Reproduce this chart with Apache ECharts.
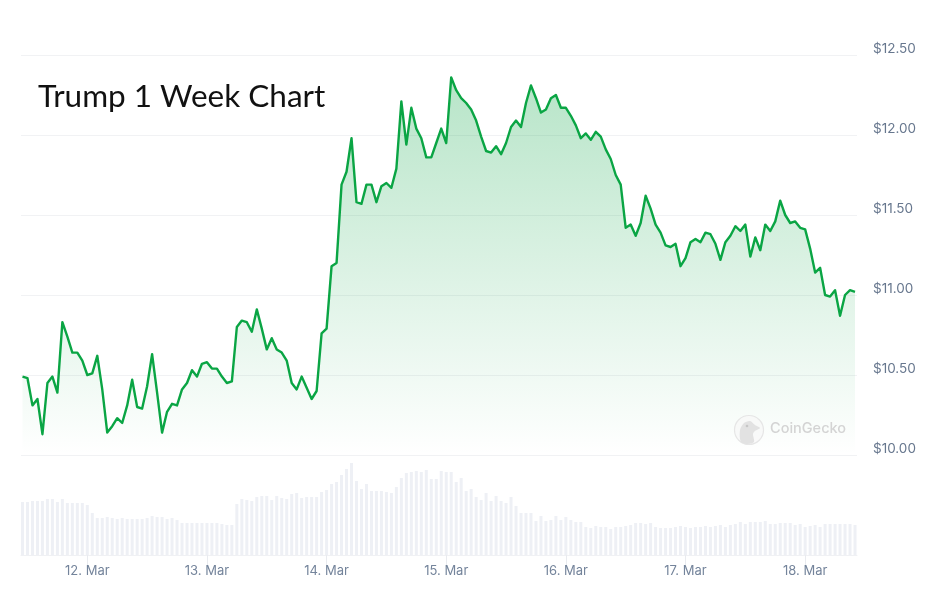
<!DOCTYPE html>
<html>
<head>
<meta charset="utf-8">
<title>Trump 1 Week Chart</title>
<script src="https://cdn.jsdelivr.net/npm/echarts@6/dist/echarts.min.js"></script>
<style>
  html, body { margin: 0; padding: 0; background: #fff; }
  #chart { width: 941px; height: 593px; }
</style>
</head>
<body>
<div id="chart"></div>
<script>
// Hourly prices in USD, first sample 11 Mar 11:00 UTC
const prices = [
  10.49,10.48,10.31,10.35,10.13,10.45,10.49,10.39,10.83,10.74,10.64,10.64,
  10.59,10.50,10.51,10.62,10.41,10.14,10.18,10.23,10.20,10.31,10.47,10.30,
  10.29,10.43,10.63,10.39,10.14,10.27,10.32,10.31,10.41,10.45,10.53,10.49,
  10.57,10.58,10.54,10.54,10.49,10.45,10.46,10.80,10.84,10.83,10.77,10.91,
  10.79,10.66,10.73,10.66,10.64,10.59,10.45,10.41,10.49,10.42,10.35,10.40,
  10.76,10.79,11.18,11.20,11.69,11.77,11.98,11.58,11.57,11.69,11.69,11.58,
  11.68,11.70,11.67,11.79,12.21,11.94,12.17,12.04,11.98,11.86,11.86,11.95,
  12.04,11.95,12.36,12.28,12.23,12.20,12.16,12.09,11.99,11.90,11.89,11.93,
  11.88,11.95,12.05,12.09,12.05,12.20,12.31,12.23,12.14,12.16,12.23,12.25,
  12.17,12.17,12.12,12.06,11.98,12.01,11.97,12.02,11.99,11.91,11.85,11.75,
  11.69,11.42,11.44,11.37,11.45,11.62,11.54,11.44,11.39,11.31,11.30,11.32,
  11.18,11.23,11.33,11.35,11.33,11.39,11.38,11.32,11.22,11.33,11.37,11.43,
  11.40,11.44,11.24,11.36,11.28,11.44,11.40,11.46,11.59,11.50,11.45,11.46,
  11.42,11.41,11.29,11.14,11.17,11.00,10.99,11.03,10.87,11.00,11.03,11.02
];

// Relative traded volume for the same hours
const volumes = [
  53,53,54,54,54,56,56,53,56,52,52,52,
  52,50,42,37,37,38,37,36,37,36,36,36,
  36,37,39,38,38,36,37,35,32,32,32,32,
  32,32,32,32,31,30,30,51,56,55,54,58,
  59,59,55,59,57,56,61,62,57,58,58,58,
  63,65,71,73,80,86,92,74,66,71,64,64,
  64,63,62,68,77,82,83,84,83,85,76,76,
  84,83,83,73,77,64,66,58,55,62,54,59,
  54,52,58,49,42,42,42,34,39,34,35,39,
  35,38,35,33,33,28,27,29,28,28,26,28,
  28,29,30,32,32,31,32,28,27,27,27,28,
  29,28,27,28,28,29,28,29,30,28,30,31,
  33,31,33,33,33,34,31,31,32,32,32,30,
  31,28,29,30,28,31,31,31,31,31,31,30
];

const priceTicks = [10, 10.5, 11, 11.5, 12, 12.5];
const dayTicks = [12, 13, 14, 15, 16, 17, 18];
const monthName = 'Mar';
const chartTitle = 'Trump 1 Week Chart';
const brandName = 'CoinGecko';

const HOUR = 3600000;
const startTime = Date.UTC(2025, 2, 11, 11);
const timeAt = i => startTime + i * HOUR;
const priceData = prices.map((p, i) => [timeAt(i), p]);
const volumeData = volumes.map((v, i) => [timeAt(i), v]);
const dayTimes = dayTicks.map(d => Date.UTC(2025, 2, d));

// Both panels share a window a little wider than the data
const xMin = timeAt(-0.3);
const xMax = timeAt(prices.length - 1 + 0.4);

const chart = echarts.init(document.getElementById('chart'), null, { renderer: 'canvas' });

chart.setOption({
  animation: false,
  backgroundColor: '#ffffff',
  title: {
    text: chartTitle,
    left: 33,
    top: 76,
    textStyle: { fontFamily: 'Lato', fontSize: 31.5, fontWeight: 'normal', color: '#111111' }
  },
  grid: [
    { left: 21, right: 84, top: 55, height: 400 },
    { left: 21, right: 84, top: 455, height: 100 }
  ],
  xAxis: [
    {
      type: 'value', gridIndex: 0, min: xMin, max: xMax,
      axisLine: { show: false }, axisTick: { show: false },
      axisLabel: { show: false }, splitLine: { show: false }
    },
    {
      type: 'value', gridIndex: 1, min: xMin, max: xMax,
      axisLine: { show: true, lineStyle: { color: '#f0f1f4', width: 1 } },
      axisTick: {
        show: true, length: 10, customValues: dayTimes,
        lineStyle: { color: '#e9ebef', width: 1 }
      },
      axisLabel: {
        show: true,
        customValues: dayTimes,
        margin: 10,
        fontFamily: 'Inter',
        fontSize: 13,
        color: '#74849b',
        hideOverlap: false,
        formatter: v => new Date(v).getUTCDate() + '. ' + monthName
      },
      splitLine: { show: false }
    }
  ],
  yAxis: [
    {
      type: 'value', gridIndex: 0, position: 'right',
      min: priceTicks[0], max: priceTicks[priceTicks.length - 1], interval: 0.5,
      axisLine: { show: false }, axisTick: { show: false },
      axisLabel: {
        margin: 16,
        align: 'left',
        verticalAlign: 'bottom',
        lineHeight: 12,
        fontFamily: 'Inter',
        fontSize: 13.5,
        color: '#67778e',
        formatter: v => '$' + v.toFixed(2)
      },
      splitLine: { show: true, lineStyle: { color: '#f1f2f4', width: 1 } }
    },
    {
      type: 'value', gridIndex: 1, min: 0, max: 100,
      axisLine: { show: false }, axisTick: { show: false },
      axisLabel: { show: false }, splitLine: { show: false }
    }
  ],
  series: [
    {
      name: 'Volume',
      type: 'bar',
      xAxisIndex: 1,
      yAxisIndex: 1,
      barWidth: 3,
      itemStyle: { color: '#eef0f5' },
      data: volumeData
    },
    {
      name: 'Price',
      type: 'line',
      xAxisIndex: 0,
      yAxisIndex: 0,
      showSymbol: false,
      smooth: false,
      lineStyle: { color: '#0aa544', width: 2.4, join: 'round' },
      areaStyle: {
        color: new echarts.graphic.LinearGradient(0, 0, 0, 1, [
          { offset: 0, color: 'rgba(10,165,68,0.42)' },
          { offset: 1, color: 'rgba(10,165,68,0.0)' }
        ])
      },
      data: priceData
    }
  ],
  // Faint brand mark in the lower right of the price panel
  graphic: [
    {
      type: 'circle', z: 5, silent: true,
      shape: { cx: 749, cy: 430, r: 14.5 },
      style: { fill: 'rgba(248,248,248,0.8)', stroke: '#e6e6e6', lineWidth: 1.2 }
    },
    {
      type: 'polygon', z: 6, silent: true,
      shape: {
        points: [[741, 442], [740, 430], [744, 423], [750, 421], [755, 425], [760, 428], [755, 431], [753, 434], [754, 442], [748, 444]],
        smooth: 0.3
      },
      style: { fill: '#e2e2e2' }
    },
    {
      type: 'circle', z: 7, silent: true,
      shape: { cx: 747, cy: 426, r: 1.3 },
      style: { fill: '#c6c6c6' }
    },
    {
      type: 'text', z: 6, silent: true,
      x: 770, y: 421,
      style: {
        text: brandName,
        fontFamily: 'Inter',
        fontSize: 14.5,
        fontWeight: 500,
        fill: '#d4d4d4'
      }
    }
  ]
});
</script>
</body>
</html>
